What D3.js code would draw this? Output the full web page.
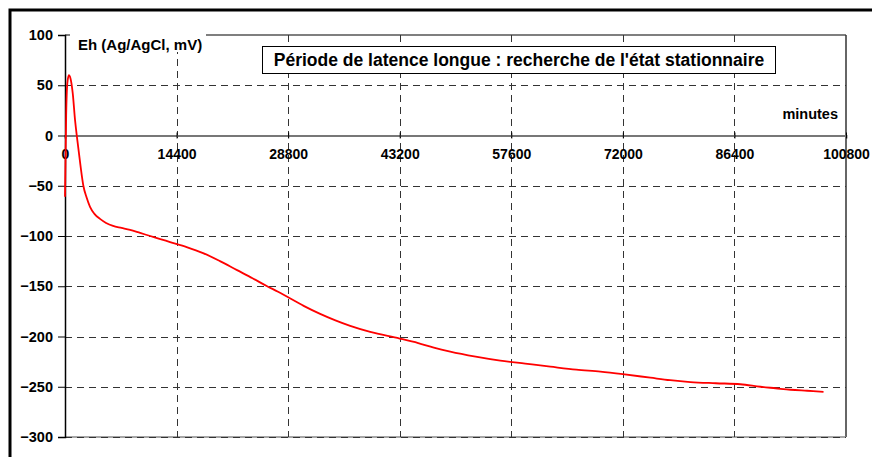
<!DOCTYPE html>
<html>
<head>
<meta charset="utf-8">
<script src="https://cdn.jsdelivr.net/npm/d3@7"></script>
<style>
  body { margin: 0; background: #fff; }
  text { font-family: Arial, "Liberation Sans", sans-serif; font-weight: bold; }
</style>
</head>
<body>
<div id="chart"></div>
<script>
// values (minutes, mV)
const minutes = [0, 150, 300, 500, 700, 1000, 1300, 1600, 2000, 2370, 2800, 3230, 3800, 4520, 5300, 6200, 7300, 8400, 9700, 11000, 12300, 13560, 15700, 17820, 20000, 22210, 24200, 26090, 27500, 28800, 30800, 32930, 34900, 36810, 39390, 43200, 45590, 47600, 49720, 53000, 56180, 59400, 62640, 66000, 69100, 72000, 75550, 78100, 80720, 84000, 87170, 89760, 91700, 93640, 95800, 97900];
const eh = [-61, 20, 52, 60, 57, 42, 15, -5, -30, -50, -62, -71, -78, -83, -87, -90, -92, -94, -97, -100, -103, -106, -111, -117, -125, -134, -142, -150, -155.5, -161, -169.5, -177.5, -184, -189.5, -195.5, -202, -206.5, -211, -215, -220, -224, -227, -230, -233, -235, -237.5, -241, -243.5, -245.3, -246.5, -247.5, -250, -251.5, -253, -254, -255];
const xTicks = [0, 14400, 28800, 43200, 57600, 72000, 86400, 100800];
const yTicks = [100, 50, 0, -50, -100, -150, -200, -250, -300];
const title = "Période de latence longue : recherche de l'état stationnaire";
const yLabel = "Eh (Ag/AgCl, mV)";
const xLabel = "minutes";

const W = 872, H = 457;
const pLeft = 65, pRight = 846, pTop = 35, pBottom = 437;
const font = 'Arial, "Liberation Sans", sans-serif';

const svg = d3.select('#chart').append('svg')
    .attr('width', W)
    .attr('height', H);

// outer frame (runs off the window on right and bottom)
svg.append('rect')
    .attr('x', 10).attr('y', 10)
    .attr('width', 880).attr('height', 470)
    .attr('fill', 'none')
    .attr('stroke', '#000')
    .attr('stroke-width', 3);

const x = d3.scaleLinear().domain([0, 100800]).range([pLeft, pRight]);
const y = d3.scaleLinear().domain([-300, 100]).range([pBottom, pTop]);

// plot border lines
svg.append('line').attr('x1', pLeft).attr('x2', pRight).attr('y1', pTop).attr('y2', pTop)
    .attr('stroke', '#000').attr('stroke-width', 1.2);
svg.append('line').attr('x1', pRight).attr('x2', pRight).attr('y1', pTop).attr('y2', pBottom)
    .attr('stroke', '#333').attr('stroke-width', 1.5);
svg.append('line').attr('x1', pLeft).attr('x2', pRight).attr('y1', pBottom).attr('y2', pBottom)
    .attr('stroke', '#888').attr('stroke-width', 1.5);

// grid
const grid = svg.append('g')
    .attr('stroke', '#333')
    .attr('stroke-width', 1)
    .attr('stroke-dasharray', '7,5');

grid.selectAll('.hgrid')
    .data(yTicks.filter(d => d !== 0 && d !== 100))
    .enter().append('line').attr('class', 'hgrid')
    .attr('x1', pLeft).attr('x2', pRight)
    .attr('y1', d => Math.round(y(d)) + 0.5)
    .attr('y2', d => Math.round(y(d)) + 0.5);

grid.selectAll('.vgrid')
    .data(xTicks.slice(1, -1))
    .enter().append('line').attr('class', 'vgrid')
    .attr('y1', pTop).attr('y2', pBottom)
    .attr('x1', d => Math.round(x(d)) + 0.5)
    .attr('x2', d => Math.round(x(d)) + 0.5);

// zero line (x axis)
const xAxis = d3.axisBottom(x).tickValues(xTicks).tickSize(3).tickFormat(d3.format('d'));
const gx = svg.append('g')
    .attr('transform', `translate(0,${y(0)})`)
    .call(xAxis);
gx.attr('font-family', font).attr('font-size', 14).attr('font-weight', 'bold');
gx.select('.domain').attr('stroke', '#777').attr('stroke-width', 2);
gx.selectAll('.tick line').attr('y1', -3).attr('stroke', '#000');
gx.selectAll('.tick text')
    .attr('y', 14)
    .attr('fill', '#000');

// y axis
const yAxis = d3.axisLeft(y).tickValues(yTicks).tickSize(7).tickPadding(5);
const gy = svg.append('g')
    .attr('transform', `translate(${pLeft},0)`)
    .call(yAxis);
gy.attr('font-family', font).attr('font-size', 14.5).attr('font-weight', 'bold');
gy.select('.domain').attr('stroke', '#000').attr('stroke-width', 1.5);
gy.selectAll('.tick line').attr('stroke', '#000');
gy.selectAll('.tick text')
    .attr('fill', '#000');

// y label with white background
svg.append('rect')
    .attr('x', 70).attr('y', 30).attr('width', 136).attr('height', 22)
    .attr('fill', '#fff');
svg.append('text')
    .attr('x', 78).attr('y', 50)
    .style('font-size', '15px')
    .text(yLabel);

svg.append('text')
    .attr('x', 838).attr('y', 119)
    .attr('text-anchor', 'end')
    .style('font-size', '14.5px')
    .text(xLabel);

// title box
svg.append('rect')
    .attr('x', 262.5).attr('y', 46.5).attr('width', 513).attr('height', 27)
    .attr('fill', '#fff').attr('stroke', '#000').attr('stroke-width', 1);
svg.append('text')
    .attr('x', 519).attr('y', 66)
    .attr('text-anchor', 'middle')
    .style('font-size', '17.5px')
    .text(title);

// curve
const data = minutes.map((m, i) => ({t: m, v: eh[i]}));
const line = d3.line()
    .x(d => x(d.t))
    .y(d => y(d.v))
    .curve(d3.curveMonotoneX);

svg.append('path')
    .datum(data)
    .attr('d', line)
    .attr('fill', 'none')
    .attr('stroke', '#f00')
    .attr('stroke-width', 1.8);
</script>
</body>
</html>
